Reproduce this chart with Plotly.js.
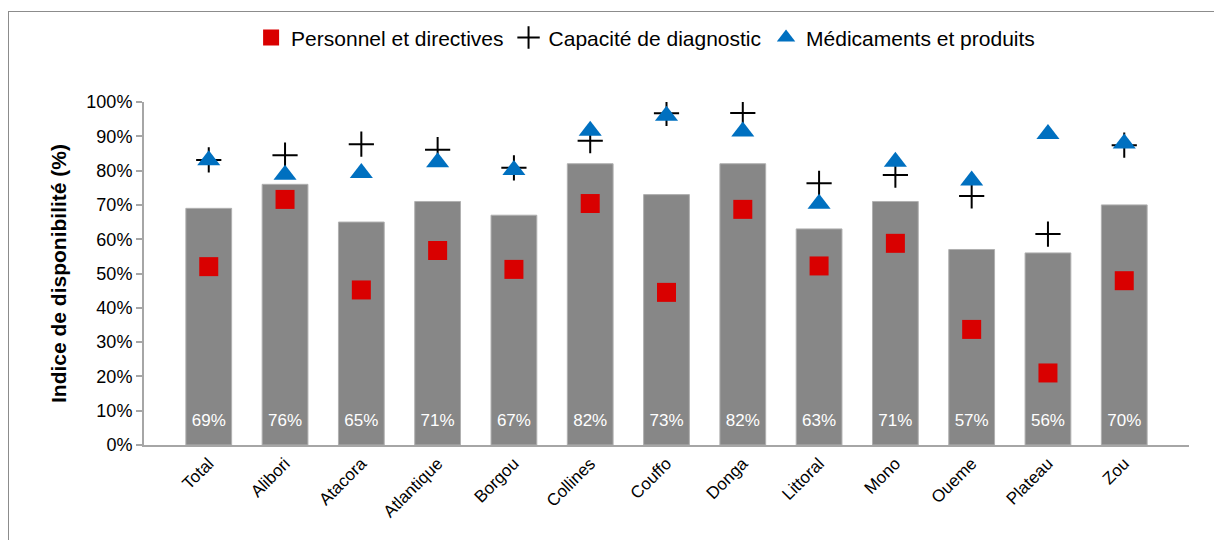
<!DOCTYPE html>
<html>
<head>
<meta charset="utf-8">
<script src="https://cdn.plot.ly/plotly-3.0.1.min.js"></script>
<style>
  html, body { margin: 0; padding: 0; background: #fff; }
  #wrap { position: relative; width: 1214px; height: 540px; overflow: hidden; }
  #chart { width: 1214px; height: 540px; }
  #frame { position: absolute; left: 8px; top: 11px; width: 1300px; height: 600px;
           border: 1.5px solid #8c8c8c; pointer-events: none; }
</style>
</head>
<body>
<div id="wrap">
  <div id="chart"></div>
  <div id="frame"></div>
</div>
<script>
const categories = ["Total","Alibori","Atacora","Atlantique","Borgou","Collines","Couffo","Donga","Littoral","Mono","Oueme","Plateau","Zou"];
const indexValues = [0.69,0.76,0.65,0.71,0.67,0.82,0.73,0.82,0.63,0.71,0.57,0.56,0.70];
const personnel = [0.52,0.716,0.452,0.567,0.512,0.704,0.445,0.687,0.522,0.588,0.337,0.21,0.479];
const diagnostic = [0.831,0.845,0.877,0.861,0.808,0.887,0.967,0.968,0.763,0.787,0.726,0.615,0.874];
const medicaments = [0.83,0.788,0.793,0.824,0.802,0.916,0.96,0.914,0.703,0.826,0.771,0.907,0.879];
const seriesNames = ["Personnel et directives","Capacité de diagnostic","Médicaments et produits"];
const LABEL_LEVEL = 0.067;

const FONT = "'Liberation Sans', Arial, sans-serif";

const traces = [
  {
    type: "bar", x: categories, y: indexValues, width: 0.6,
    marker: { color: "#878787", line: { color: "#b0b0b0", width: 1 } },
    showlegend: false, hoverinfo: "skip"
  },
  {
    type: "scatter", mode: "text", x: categories, y: categories.map(() => LABEL_LEVEL),
    text: indexValues.map(v => Math.round(v * 100) + "%"),
    textposition: "middle center",
    textfont: { color: "#ffffff", size: 17, family: FONT },
    showlegend: false, hoverinfo: "skip"
  },
  {
    type: "scatter", mode: "markers", name: seriesNames[0], x: categories, y: personnel,
    marker: { symbol: "square", size: 19, color: "#d90000", line: { width: 0 } },
    legendrank: 1
  },
  {
    type: "scatter", mode: "markers", name: seriesNames[1], x: categories, y: diagnostic,
    marker: { symbol: "cross-thin", size: 18, color: "#000000", line: { color: "#000000", width: 2 } },
    legendrank: 2
  },
  {
    type: "scatter", mode: "markers", name: seriesNames[2], x: categories, y: medicaments,
    marker: { symbol: "triangle-up", size: 20, color: "#0070c0", line: { width: 0 } },
    legendrank: 3
  }
];

const layout = {
  width: 1214, height: 540,
  margin: { l: 144, r: 25, t: 102, b: 95 },
  paper_bgcolor: "#ffffff", plot_bgcolor: "#ffffff",
  font: { family: FONT, color: "#000000", size: 17 },
  showlegend: true,
  legend: {
    orientation: "h", x: 0.48, xanchor: "center", y: 1.187, yanchor: "middle",
    font: { size: 21, family: FONT, color: "#000000" },
    itemwidth: 30, tracegroupgap: 0
  },
  xaxis: {
    type: "category", tickangle: -45,
    tickfont: { size: 17, family: FONT },
    showline: true, linecolor: "#a6a6a6", linewidth: 2,
    ticks: "", showgrid: false, zeroline: false, fixedrange: true
  },
  yaxis: {
    range: [0, 1], tickformat: ".0%", dtick: 0.1,
    tickfont: { size: 18, family: FONT },
    showline: true, linecolor: "#a6a6a6", linewidth: 2,
    ticks: "outside", ticklen: 6, tickcolor: "#a6a6a6", tickwidth: 2,
    showgrid: false, zeroline: false, fixedrange: true,
    title: { text: "Indice de disponibilité (%)", font: { size: 21, family: FONT, weight: "bold" }, standoff: 14 }
  }
};

Plotly.newPlot("chart", traces, layout, { displayModeBar: false, staticPlot: true });
</script>
</body>
</html>
